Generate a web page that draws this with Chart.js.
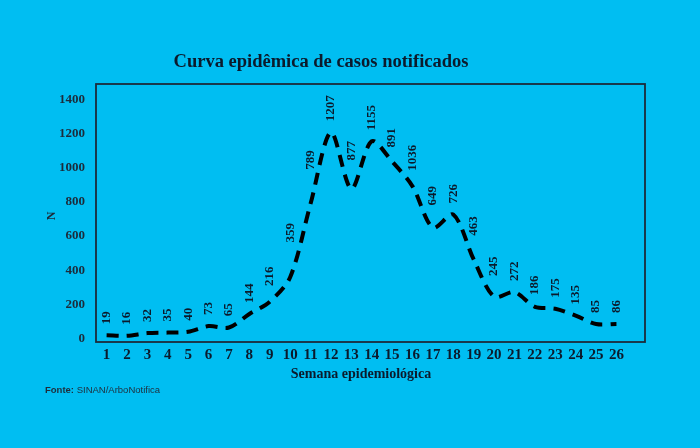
<!DOCTYPE html>
<html>
<head>
<meta charset="utf-8">
<script src="https://cdn.jsdelivr.net/npm/chart.js@4"></script>
<style>
  html, body { margin: 0; padding: 0; background: #00bef2; }
  #wrap { width: 700px; height: 448px; }
</style>
</head>
<body>
<div id="wrap"><canvas id="curvaChart" width="700" height="448"></canvas></div>
<script>
// semanas epidemiológicas
var semanas = [1, 2, 3, 4, 5, 6, 7, 8, 9, 10, 11, 12, 13, 14, 15, 16, 17, 18, 19, 20, 21, 22, 23, 24, 25, 26];
// casos (linha)
var casos = [19, 16, 32, 35, 40, 73, 65, 144, 216, 359, 789, 1207, 877, 1155, 1036, 891, 649, 726, 463, 245, 272, 186, 175, 135, 85, 86];
// rótulos como aparecem no gráfico
var rotulos = ["19", "16", "32", "35", "40", "73", "65", "144", "216", "359", "789", "1207", "877", "1155", "891", "1036", "649", "726", "463", "245", "272", "186", "175", "135", "85", "86"];
var ticksY = [0, 200, 400, 600, 800, 1000, 1200, 1400];

var corTexto = "#0b1a2c";
var serif = "'Liberation Serif', 'DejaVu Serif', serif";

//textos e moldura
var textosPlugin = {
  id: "textos",
  afterDatasetsDraw: function (chart) {
    var ctx = chart.ctx;
    var area = chart.chartArea;
    ctx.save();
    // moldura
    ctx.strokeStyle = "#1c2b3a";
    ctx.lineWidth = 1.8;
    ctx.strokeRect(area.left, area.top, area.right - area.left, area.bottom - area.top);

    // rótulos de dados (afastados da linha quando ela sobe ao lado)
    var meta = chart.getDatasetMeta(0);
    var pts = meta.data;
    ctx.fillStyle = corTexto;
    ctx.font = "bold 13px " + serif;
    ctx.textAlign = "left";
    ctx.textBaseline = "middle";
    pts.forEach(function (pt, i) {
      var topo = pt.y;
      [pts[i - 1], pts[i + 1]].forEach(function (nb) {
        if (!nb) return;
        var dx = Math.abs(nb.x - pt.x);
        var yl = pt.y + ((nb.y - pt.y) * 8) / dx;
        if (yl < topo) topo = yl;
      });
      var desloc = Math.max(11, pt.y - topo + 6);
      ctx.save();
      ctx.translate(pt.x, pt.y - desloc);
      ctx.rotate(-Math.PI / 2);
      ctx.fillText(rotulos[i], 0, 0);
      ctx.restore();
    });

    // título
    ctx.font = "bold 18.5px " + serif;
    ctx.textAlign = "center";
    ctx.fillText("Curva epidêmica de casos notificados", 321, 62);

    // títulos dos eixos
    ctx.font = "bold 14px " + serif;
    ctx.fillText("Semana epidemiológica", 361, 374);
    ctx.save();
    ctx.translate(52, 216);
    ctx.rotate(-Math.PI / 2);
    ctx.font = "bold 12px " + serif;
    ctx.fillStyle = "#1c2b3a";
    ctx.fillText("N", 0, 0);
    ctx.restore();

    // fonte
    ctx.textAlign = "left";
    ctx.fillStyle = "#1f2d3b";
    ctx.font = "bold 9.5px 'Liberation Sans', Arial, sans-serif";
    ctx.fillText("Fonte:", 45, 390);
    var w = ctx.measureText("Fonte: ").width;
    ctx.font = "9.5px 'Liberation Sans', Arial, sans-serif";
    ctx.fillText("SINAN/ArboNotifica", 45 + w, 390);
    ctx.restore();
  },
};

var ctxCurva = document.getElementById("curvaChart");
var chartCurva = new Chart(ctxCurva, {
  type: "line",
  data: {
    datasets: [
      {
        label: "Casos",
        data: semanas.map(function (s, i) {
          return { x: s, y: casos[i] };
        }),
        borderColor: "#000000",
        borderWidth: 4,
        borderDash: [12, 8],
        borderCapStyle: "butt",
        pointRadius: 0,
        tension: 0.3,
        fill: false,
      },
    ],
  },
  options: {
    responsive: false,
    animation: false,
    devicePixelRatio: 1,
    layout: { padding: { top: 84, right: 55, left: 0, bottom: 0 } },
    plugins: {
      legend: { display: false },
      tooltip: { enabled: false },
      title: { display: false },
    },
    scales: {
      x: {
        type: "linear",
        min: 0.48,
        max: 27.4,
        grid: { display: false, drawTicks: false },
        border: { display: false },
        afterBuildTicks: function (s) {
          s.ticks = semanas.map(function (v) { return { value: v }; });
        },
        afterFit: function (s) { s.height = 106; },
        ticks: {
          padding: 4,
          maxRotation: 0,
          autoSkip: false,
          color: corTexto,
          font: { family: serif, size: 15, weight: "bold" },
          callback: function (v) { return String(v); },
        },
      },
      y: {
        min: -20,
        max: 1490,
        grid: { display: false, drawTicks: false },
        border: { display: false },
        afterBuildTicks: function (s) {
          s.ticks = ticksY.map(function (v) { return { value: v }; });
        },
        afterFit: function (s) { s.width = 96; },
        ticks: {
          padding: 11,
          color: "#1c2b3a",
          font: { family: serif, size: 13, weight: "bold" },
          callback: function (v) { return String(v); },
        },
      },
    },
  },
  plugins: [textosPlugin],
});
</script>
</body>
</html>
